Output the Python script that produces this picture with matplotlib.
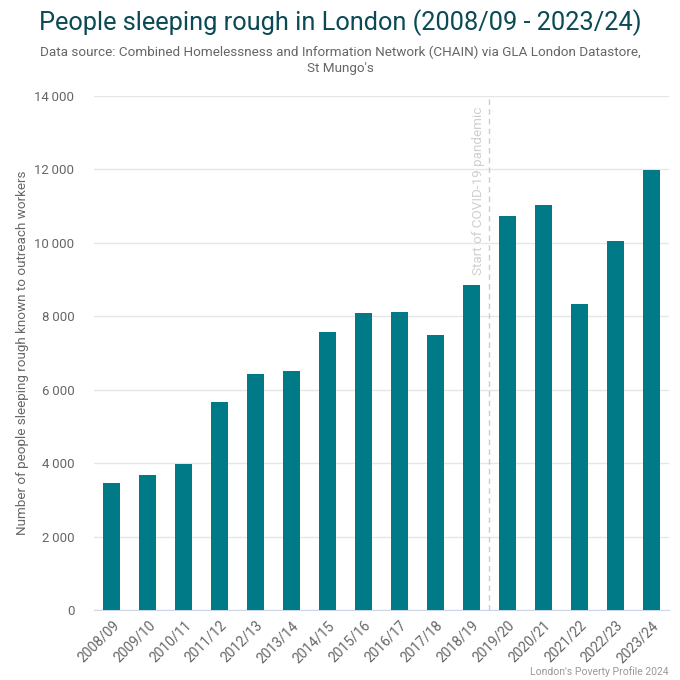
import matplotlib.pyplot as plt
import numpy as np

plt.rcParams['font.family'] = ['Roboto', 'DejaVu Sans']

years = ['2008/09', '2009/10', '2010/11', '2011/12', '2012/13', '2013/14', '2014/15', '2015/16',
         '2016/17', '2017/18', '2018/19', '2019/20', '2020/21', '2021/22', '2022/23', '2023/24']
rough_sleepers = [3472, 3673, 3975, 5678, 6437, 6508, 7581, 8096,
                  8108, 7484, 8855, 10726, 11018, 8329, 10053, 11993]
yticks = [0, 2000, 4000, 6000, 8000, 10000, 12000, 14000]
pandemic_pos = 10.5

bar_color = '#007a87'
text_grey = '#666666'

fig = plt.figure(figsize=(6.8, 6.8), dpi=100)
ax = fig.add_axes([0.138, 0.1029, 0.846, 0.756])

x = np.arange(len(years))
ax.bar(x, rough_sleepers, width=0.465, color=bar_color, zorder=3)

ax.set_xlim(-0.5, len(years) - 0.5)
ax.set_ylim(yticks[0], yticks[-1])
ax.set_yticks(yticks)
ax.set_yticklabels(['{:,}'.format(v).replace(',', '\u2009') if v else '0' for v in yticks])
ax.set_xticks(x)
ax.set_xticklabels(years, rotation=45, ha='right', rotation_mode='anchor')

ax.grid(axis='y', color='#e6e6e6', linewidth=1, zorder=0)
for side in ['top', 'right', 'left']:
    ax.spines[side].set_visible(False)
ax.spines['bottom'].set_color('#ccd6eb')
ax.tick_params(axis='y', length=0, pad=14, labelsize=9.5, labelcolor=text_grey)
ax.tick_params(axis='x', length=0, pad=6, labelsize=10, labelcolor=text_grey)

ax.set_ylabel('Number of people sleeping rough known to outreach workers',
              fontsize=9.7, color=text_grey, labelpad=4)

# pandemic marker
ax.axvline(pandemic_pos, color='#cccccc', linestyle=(0, (4, 3)), linewidth=1, zorder=2)
ax.text(pandemic_pos - 0.12, 13700, 'Start of COVID-19 pandemic', rotation=90,
        ha='right', va='top', fontsize=9.7, color='#cfcfcf')

fig.text(0.5, 0.967, 'People sleeping rough in London (2008/09 - 2023/24)',
         ha='center', va='center', fontsize=18.3, color='#0b4a55')
fig.text(0.5, 0.911, 'Data source: Combined Homelessness and Information Network (CHAIN) via GLA London Datastore,\nSt Mungo\'s',
         ha='center', va='center', fontsize=9.7, color=text_grey, linespacing=1.35)
fig.text(0.983, 0.004, "London's Poverty Profile 2024", ha='right', va='bottom',
         fontsize=7.5, color='#999999')

fig.savefig('out.png', dpi=100)
